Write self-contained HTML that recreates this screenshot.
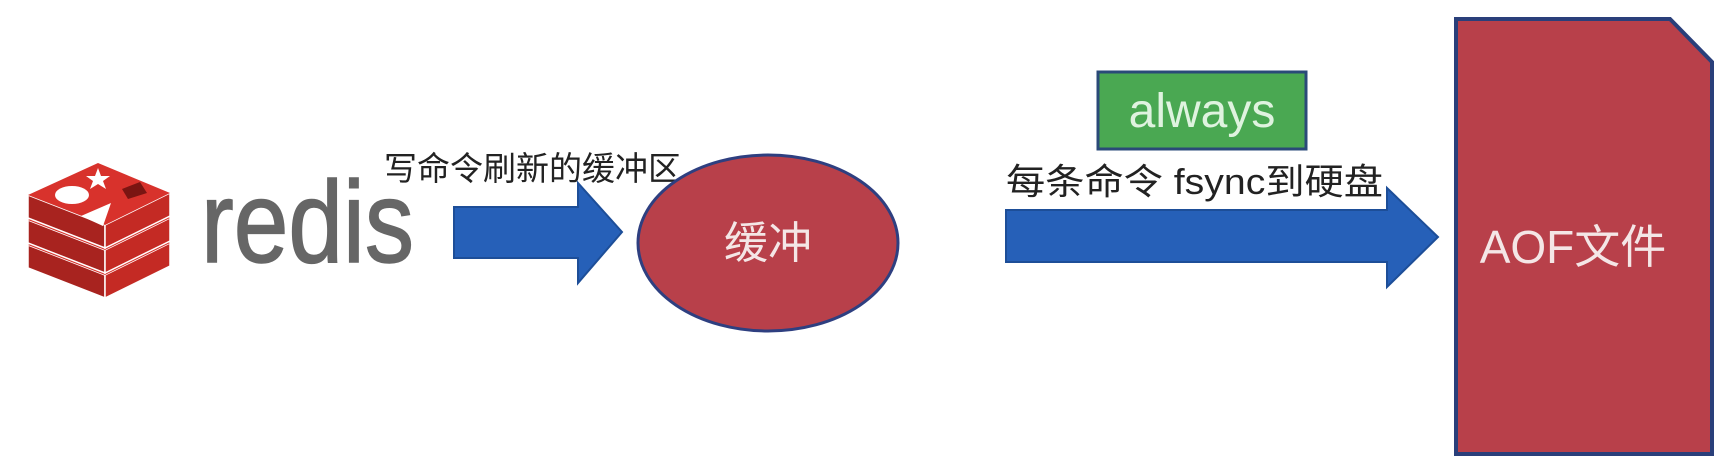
<!DOCTYPE html>
<html><head><meta charset="utf-8"><style>
html,body{margin:0;padding:0;background:#fff;}
body{width:1730px;height:474px;position:relative;overflow:hidden;font-family:"Liberation Sans","Noto Sans CJK SC",sans-serif;}
</style></head><body>
<svg width="1730" height="474" viewBox="0 0 1730 474" xmlns="http://www.w3.org/2000/svg" style="position:absolute;left:0;top:0">
<defs>
<g id="layer">
  <polygon points="28,195 105,225 105,248 28,218" fill="#a8231f" stroke="#fff" stroke-width="1.5"/>
  <polygon points="105,225 170,193 170,216 105,248" fill="#c42a24" stroke="#fff" stroke-width="1.5"/>
  <polygon points="28,195 98,163 170,193 105,225" fill="#d8322c"/>
</g>
</defs>
<use href="#layer" transform="translate(0,50)"/>
<use href="#layer" transform="translate(0,25)"/>
<use href="#layer"/>
<ellipse cx="72" cy="195" rx="17" ry="9" fill="#fff"/>
<polygon points="98,168 101,176 110,176 103,181 106,189 98,184 90,189 93,181 86,176 95,176" fill="#fff"/>
<polygon points="81,216 111,203 103,226" fill="#fff"/>
<polygon points="122,189 140,182 147,193 128,199" fill="#7a1512"/>
<text x="201" y="262" font-size="116" fill="#666" stroke="#666" stroke-width="1.5" font-family="Liberation Sans, sans-serif" textLength="213" lengthAdjust="spacingAndGlyphs">redis</text>

<text x="384" y="180" font-size="33" fill="#222" font-family="Liberation Sans, Noto Sans CJK SC, sans-serif">写命令刷新的缓冲区</text>
<polygon points="454,207 578,207 578,183 622,232 578,283 578,258 454,258" fill="#2660b8" stroke="#1d4e98" stroke-width="2"/>

<ellipse cx="768" cy="243" rx="130" ry="88" fill="#b8404a" stroke="#2e3f80" stroke-width="3"/>
<text x="768" y="258" font-size="44" fill="#f4e6e6" text-anchor="middle" font-family="Liberation Sans, Noto Sans CJK SC, sans-serif">缓冲</text>

<rect x="1098" y="72" width="208" height="77" fill="#4aa852" stroke="#2a4a78" stroke-width="3"/>
<text x="1202" y="127" font-size="48" fill="#dff3df" text-anchor="middle" font-family="Liberation Sans, sans-serif">always</text>
<text x="1006" y="194" font-size="36" fill="#222" font-family="Liberation Sans, Noto Sans CJK SC, sans-serif" textLength="377" lengthAdjust="spacingAndGlyphs">每条命令 fsync到硬盘</text>
<polygon points="1006,210 1387,210 1387,188 1438,237 1387,287 1387,262 1006,262" fill="#2660b8" stroke="#1d4e98" stroke-width="2"/>

<polygon points="1456,19 1670,19 1712,62 1712,454 1456,454" fill="#b8404a" stroke="#2a3f7a" stroke-width="4"/>
<text x="1573" y="263" font-size="46" fill="#f4e6e6" text-anchor="middle" font-family="Liberation Sans, Noto Sans CJK SC, sans-serif">AOF文件</text>
</svg>
</body></html>
